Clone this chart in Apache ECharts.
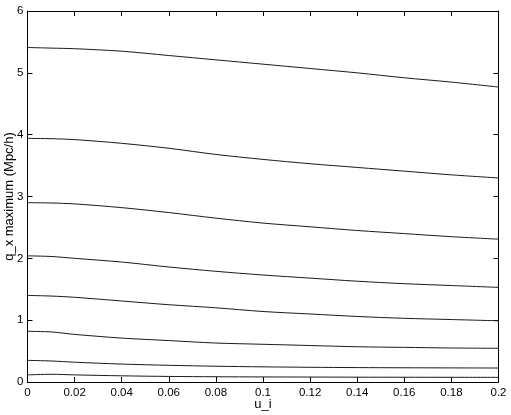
<!DOCTYPE html>
<html>
<head>
<meta charset="utf-8">
<script src="https://cdn.jsdelivr.net/npm/echarts@6/dist/echarts.min.js"></script>
<style>
  html, body { margin: 0; padding: 0; background: #fff; }
  #chart { width: 511px; height: 415px; }
</style>
</head>
<body>
<div id="chart"></div>
<script>
// u_i sample points
const uVals = [0, 0.01, 0.02, 0.04, 0.06, 0.08, 0.1, 0.12, 0.14, 0.16, 0.18, 0.2]

// q_x maximum curves, top to bottom
const curve1 = [5.41, 5.40, 5.39, 5.35, 5.28, 5.21, 5.14, 5.07, 5.00, 4.92, 4.85, 4.77]
const curve2 = [3.94, 3.935, 3.92, 3.86, 3.78, 3.68, 3.60, 3.53, 3.47, 3.41, 3.35, 3.30]
const curve3 = [2.90, 2.895, 2.88, 2.82, 2.74, 2.65, 2.57, 2.51, 2.45, 2.40, 2.35, 2.31]
const curve4 = [2.04, 2.03, 2.00, 1.94, 1.86, 1.79, 1.73, 1.68, 1.63, 1.59, 1.56, 1.53]
const curve5 = [1.40, 1.39, 1.37, 1.31, 1.25, 1.20, 1.14, 1.10, 1.06, 1.03, 1.01, 0.99]
const curve6 = [0.82, 0.81, 0.77, 0.71, 0.67, 0.63, 0.61, 0.59, 0.57, 0.56, 0.55, 0.545]
const curve7 = [0.35, 0.34, 0.32, 0.29, 0.27, 0.255, 0.245, 0.238, 0.233, 0.23, 0.228, 0.226]
const curve8 = [0.115, 0.125, 0.115, 0.10, 0.09, 0.085, 0.082, 0.08, 0.078, 0.077, 0.076, 0.075]

const curves = [curve1, curve2, curve3, curve4, curve5, curve6, curve7, curve8]

const xTickStep = 0.02
const yTickStep = 1

const font = 'Liberation Sans, Arial, Helvetica, sans-serif'
const axisColor = '#000'

const chart = echarts.init(document.getElementById('chart'))

function baseAxis(extra) {
  return Object.assign({
    type: 'value',
    axisLine: { show: true, onZero: false, lineStyle: { color: axisColor, width: 1 } },
    axisTick: { show: true, inside: true, length: 5, lineStyle: { color: axisColor } },
    splitLine: { show: false },
    axisLabel: { color: '#000', fontFamily: font, fontSize: 11 }
  }, extra)
}

const options = {
  animation: false,
  backgroundColor: '#fff',
  grid: { left: 27.5, right: 12.5, top: 11, bottom: 33, containLabel: false, outerBoundsMode: 'none' },
  xAxis: [
    baseAxis({
      min: 0, max: 0.2, interval: xTickStep,
      name: 'u_i', nameLocation: 'middle', nameGap: 16, nameMoveOverlap: false,
      nameTextStyle: { color: '#000', fontFamily: font, fontSize: 13 },
      axisLabel: { color: '#000', fontFamily: font, fontSize: 11.5, margin: 5 }
    }),
    baseAxis({
      position: 'top', min: 0, max: 0.2, interval: xTickStep,
      axisLabel: { show: false }
    })
  ],
  yAxis: [
    baseAxis({
      min: 0, max: 6, interval: yTickStep,
      name: 'q_x maximum (Mpc/h)', nameLocation: 'middle', nameGap: 12, nameMoveOverlap: false,
      nameTextStyle: { color: '#000', fontFamily: font, fontSize: 13 },
      axisLabel: { color: '#000', fontFamily: font, fontSize: 11.5, margin: 4 }
    }),
    baseAxis({
      position: 'right', min: 0, max: 6, interval: yTickStep,
      axisLabel: { show: false }
    })
  ],
  series: []
}

for (let c = 0; c < curves.length; c++) {
  options.series.push({
    type: 'line',
    xAxisIndex: 0,
    yAxisIndex: 0,
    data: uVals.map((u, i) => [u, curves[c][i]]),
    showSymbol: false,
    smooth: 0.3,
    lineStyle: { color: '#1a1a1a', width: 1 }
  })
}

chart.setOption(options)
</script>
</body>
</html>
